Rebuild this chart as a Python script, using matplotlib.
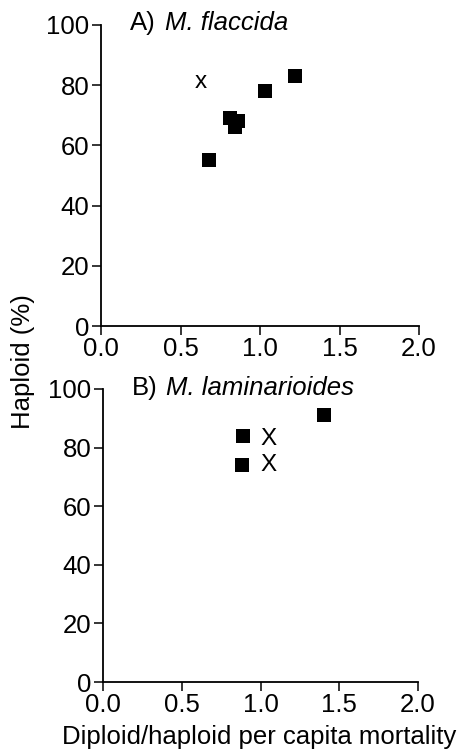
import matplotlib
matplotlib.use("Agg")
import matplotlib.pyplot as plt

plt.rcParams['font.family'] = ['Liberation Sans', 'DejaVu Sans']

# Panel A: M. flaccida
a_x = [0.68, 0.81, 0.86, 0.84, 1.03, 1.22]
a_y = [55, 69, 68, 66, 78, 83]
a_cross_x = [0.63]
a_cross_y = [81]

# Panel B: M. laminarioides
b_x = [0.89, 0.88, 1.40]
b_y = [84, 74, 91]
b_cross_x = [1.05, 1.05]
b_cross_y = [83, 74]

xticks = [0.0, 0.5, 1.0, 1.5, 2.0]
yticks = [0, 20, 40, 60, 80, 100]

fig = plt.figure(figsize=(4.61, 7.5), dpi=100)
axA = fig.add_axes([101/461, 1-326/750, 318/461, 301/750])
axB = fig.add_axes([103/461, 1-682/750, 315/461, 293/750])

FS = 18.5
for ax, xs, ys, cx, cy, title, cross_char in [
        (axA, a_x, a_y, a_cross_x, a_cross_y, 'M. flaccida', 'x'),
        (axB, b_x, b_y, b_cross_x, b_cross_y, 'M. laminarioides', 'X')]:
    ax.scatter(xs, ys, marker='s', s=105, color='black', linewidths=0, zorder=3)
    for x, y in zip(cx, cy):
        ax.text(x, y, cross_char, ha='center', va='center', fontsize=FS - 1, color='black')
    ax.set_xlim(0, 2.0)
    ax.set_ylim(0, 100)
    ax.set_xticks(xticks)
    ax.set_xticklabels([f'{v:.1f}' for v in xticks])
    ax.set_yticks(yticks)
    ax.set_yticklabels([str(v) for v in yticks])
    for s in ['top', 'right']:
        ax.spines[s].set_visible(False)
    for s in ['left', 'bottom']:
        ax.spines[s].set_linewidth(1.3)
    ax.tick_params(direction='out', length=6.5, width=1.1, labelsize=FS, pad=2)
    ax.tick_params(axis='x', pad=1.5)
    ax.set_facecolor('none')
    letter = 'A)' if ax is axA else 'B)'
    ax.text(29/318, 1.005, letter, transform=ax.transAxes, fontsize=FS,
            ha='left', va='center')
    ax.annotate(title, xy=(29/318, 1.005), xycoords='axes fraction',
                xytext=(25, 0), textcoords='offset points', fontsize=FS,
                style='italic', ha='left', va='center')

fig.text(23/461, 1-362/750, 'Haploid (%)', rotation=90, ha='center', va='center', fontsize=FS)
fig.text(259/461, 1-737/750, 'Diploid/haploid per capita mortality', ha='center', va='center', fontsize=FS)

fig.savefig('out.png', dpi=100)
